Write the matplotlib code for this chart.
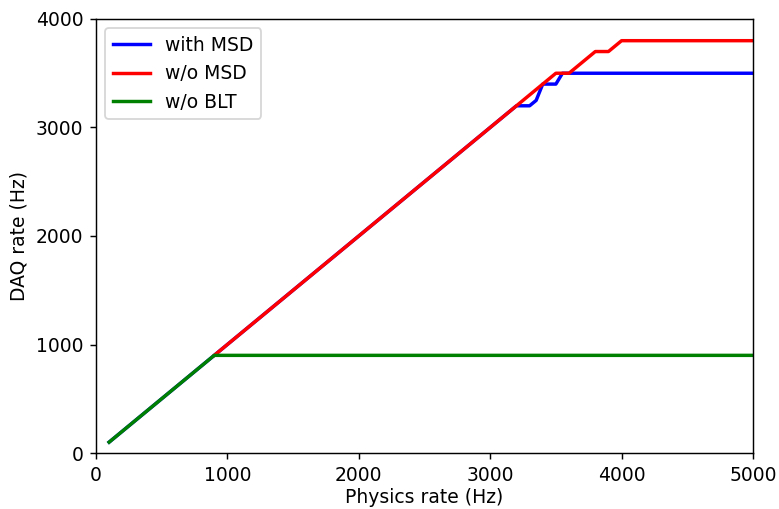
import matplotlib.pyplot as plt

# physics rate vs DAQ rate for the three configurations
x_msd = [100, 3200, 3250, 3300, 3350, 3400, 3450, 3500, 3550, 5000]
y_msd = [100, 3200, 3200, 3200, 3250, 3400, 3400, 3400, 3500, 3500]

x_nomsd = [900, 3500, 3600, 3700, 3800, 3900, 4000, 5000]
y_nomsd = [900, 3500, 3500, 3600, 3700, 3700, 3800, 3800]

x_noblt = [100, 900, 5000]
y_noblt = [100, 900, 900]

plt.rcParams["font.size"] = 10.4

fig = plt.figure(figsize=(779 / 130, 509 / 130), dpi=130)
ax = fig.add_axes([0.1232, 0.110, 0.8434, 0.8527])

ax.plot(x_msd, y_msd, color="blue", lw=1.9, label="with MSD")
ax.plot(x_nomsd, y_nomsd, color="red", lw=1.9, label="w/o MSD")
ax.plot(x_noblt, y_noblt, color="green", lw=1.9, label="w/o BLT")

ax.set_xlim(0, 5000)
ax.set_ylim(0, 4000)
ax.set_yticks([0, 1000, 2000, 3000, 4000])
ax.set_xlabel("Physics rate (Hz)", labelpad=2)
ax.set_ylabel("DAQ rate (Hz)")
ax.legend(loc="upper left")

fig.savefig("out.png", dpi=130)
